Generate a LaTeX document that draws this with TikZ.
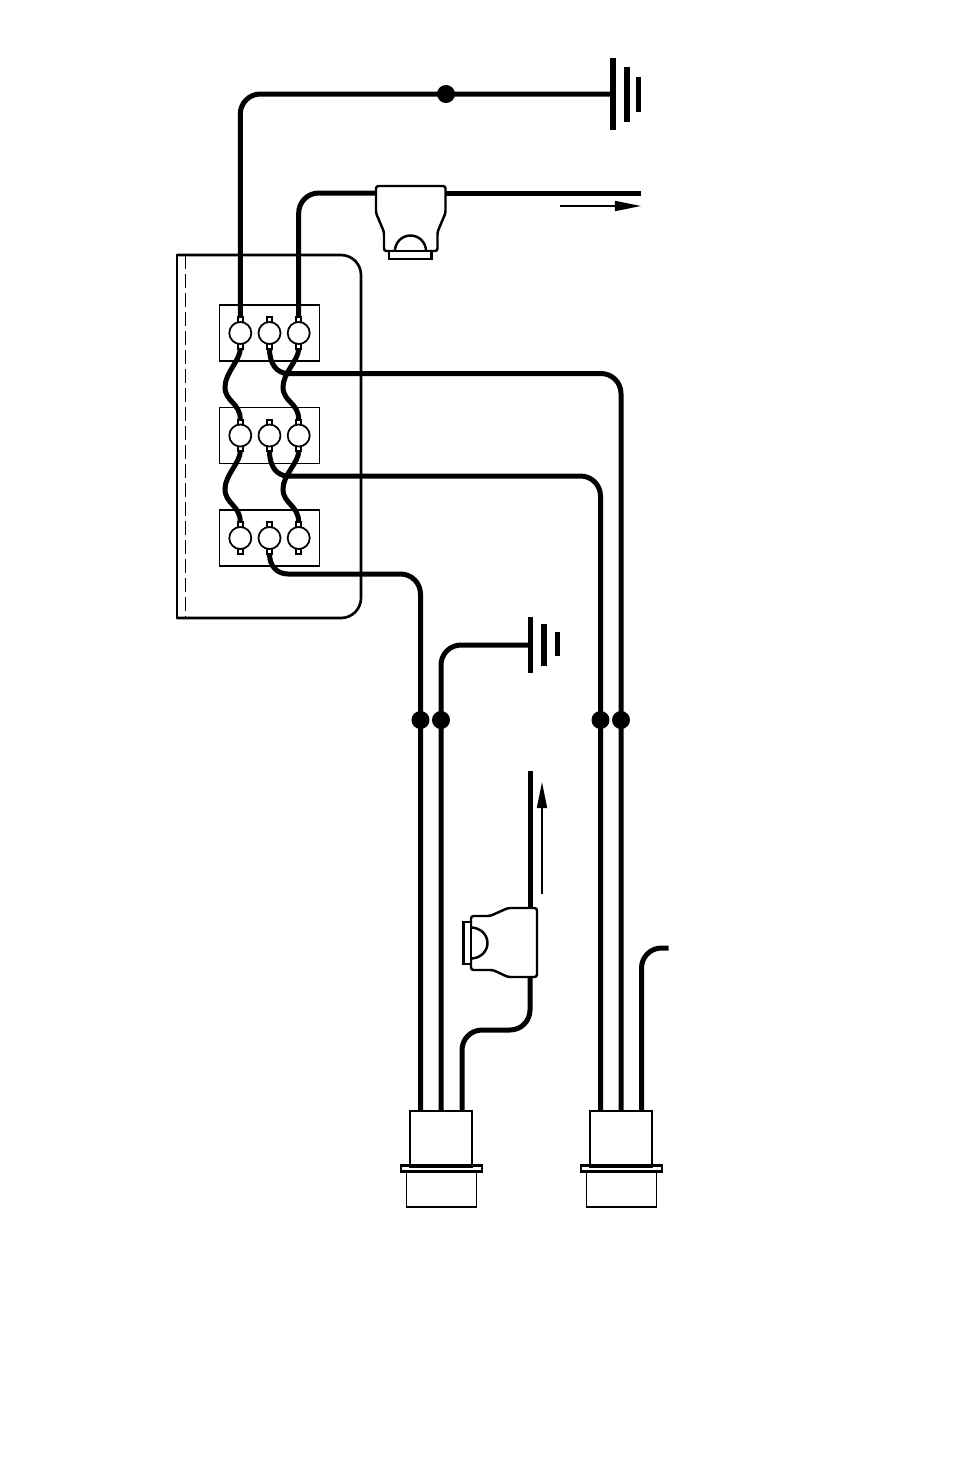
\documentclass[tikz,border=0pt]{standalone}
\usetikzlibrary{arrows.meta}
\tikzset{
  wire/.style={line width=1.42pt},
  thinbox/.style={draw, line width=0.5pt, inner sep=0pt, outer sep=0pt},
  term/.style={circle, draw, fill=white, line width=0.5pt, minimum size=0.22cm, inner sep=0pt, outer sep=0pt},
  tab/.style={draw, fill=white, line width=0.55pt, minimum size=0.055cm, inner sep=0pt, outer sep=0pt},
  dot/.style={circle, fill=black, minimum size=0.18cm, inner sep=0pt, outer sep=0pt},
  bar/.style={line width=1.55pt},
  flow/.style={line width=0.45pt, -{Triangle[length=0.26cm,width=0.1cm]}},
  lamp/.style={draw, fill=white, line width=0.7pt}
}
\begin{document}
\begin{tikzpicture}[x=0.01cm, y=-0.01cm]
	\useasboundingbox (0,0) rectangle (954,1475);
	% housing
	\draw[line width=0.75pt, rounded corners=0.2cm] (177,255) -- (361,255) -- (361,618) -- (177,618);
	\draw[line width=0.75pt, line cap=rect] (177,255) -- (177,618);
	\draw[line width=0.4pt, dash pattern=on 0.14cm off 0.05cm] (185.5,255) -- (185.5,618);
	% terminal strips
	\node[thinbox, minimum width=1cm, minimum height=0.56cm] (stripA) at (269.5,333) {};
	\node[thinbox, minimum width=1cm, minimum height=0.56cm] (stripB) at (269.5,435.5) {};
	\node[thinbox, minimum width=1cm, minimum height=0.56cm] (stripC) at (269.5,538) {};
	% terminals, rows 1..3
	\foreach \row/\y in {1/333,2/435.5,3/538} {
		\foreach \col/\x in {a/240.3,b/269.5,c/298.7} {
			\node[tab] (\col\row top) at (\x,\y-13) {};
			\node[tab] (\col\row bot) at (\x,\y+13) {};
			\node[term] (\col\row) at (\x,\y) {};
		}
	}
	% plugs
	\node[thinbox, line width=0.7pt, minimum width=0.62cm, minimum height=0.555cm] (plugA) at (441,1138.5) {};
	\node[thinbox, line width=0.8pt, minimum width=0.81cm, minimum height=0.055cm] (flangeA) at (441.5,1168.5) {};
	\node[thinbox, minimum width=0.7cm, minimum height=0.36cm] (capA) at (441.5,1189) {};
	\node[thinbox, line width=0.7pt, minimum width=0.62cm, minimum height=0.555cm] (plugB) at (621,1138.5) {};
	\node[thinbox, line width=0.8pt, minimum width=0.81cm, minimum height=0.055cm] (flangeB) at (621.5,1168.5) {};
	\node[thinbox, minimum width=0.7cm, minimum height=0.36cm] (capB) at (621.5,1189) {};
	\coordinate (pA1) at (420.5,1110);
	\coordinate (pA2) at (441,1110);
	\coordinate (pA3) at (462,1110);
	\coordinate (pB1) at (600.5,1110);
	\coordinate (pB2) at (621,1110);
	\coordinate (pB3) at (641.5,1110);
	% grounds
	\coordinate (gndT) at (613,94);
	\draw[bar] (613,58) -- (613,130);
	\draw[bar] (627,67) -- (627,122);
	\draw[bar] (638.5,77) -- (638.5,112);
	\coordinate (gndL) at (530,645);
	\draw[bar] (530.3,617) -- (530.3,673);
	\draw[bar] (544,624) -- (544,666);
	\draw[bar] (557.7,632) -- (557.7,656);
	% top lamp and its wires
	\coordinate (lampTin) at (376,193);
	\coordinate (lampTout) at (445,193);
	\coordinate (lineT) at (641,193);
	\draw[wire, rounded corners=0.2cm] (a1top) |- (gndT);
	\draw[wire, rounded corners=0.2cm] (c1top) |- (lampTin);
	\draw[wire] (lampTout) -- (lineT);
	\draw[lamp, rounded corners=0.025cm] (376,186) -- (445.5,186) -- (445.5,213) -- (437.5,232) -- (437.5,243) -- (437.5,251) -- (384,251) -- (384,232) -- (376,213) -- cycle;
	\draw[lamp] (395,251) arc[start angle=180, end angle=0, x radius=15.5, y radius=-15.5];
	\draw[lamp] (389,251) rectangle (431.5,259);
	\node[dot] (dotT) at (446,94) {};
	% links between strips
	\coordinate (a1w) at (225,387);
	\coordinate (c1w) at (283,387);
	\coordinate (a2w) at (225,489);
	\coordinate (c2w) at (283,489);
	\draw[wire] (a1bot) .. controls +(0,14) and +(0,-14) .. (a1w) .. controls +(0,15) and +(0,-20) .. (a2top);
	\draw[wire] (c1bot) .. controls +(0,14) and +(0,-14) .. (c1w) .. controls +(0,15) and +(0,-20) .. (c2top);
	\draw[wire] (a2bot) .. controls +(0,14) and +(0,-14) .. (a2w) .. controls +(0,15) and +(0,-20) .. (a3top);
	\draw[wire] (c2bot) .. controls +(0,14) and +(0,-14) .. (c2w) .. controls +(0,15) and +(0,-20) .. (c3top);
	% branches to the plugs
	\coordinate (b1turn) at (288,373.5);
	\coordinate (b2turn) at (288,476);
	\coordinate (b3turn) at (288,574);
	\draw[wire] (b1bot) .. controls +(0,18) and +(-11,0) .. (b1turn) [rounded corners=0.2cm] -| (pB2);
	\draw[wire] (b2bot) .. controls +(0,18) and +(-11,0) .. (b2turn) [rounded corners=0.2cm] -| (pB1);
	\draw[wire] (b3bot) .. controls +(0,15) and +(-11,0) .. (b3turn) [rounded corners=0.2cm] -| (pA1);
	\draw[wire, rounded corners=0.2cm] (pA2) |- (gndL);
	\node[dot] (dotA1) at (420.5,720) {};
	\node[dot] (dotA2) at (441,720) {};
	\node[dot] (dotB1) at (600.5,720) {};
	\node[dot] (dotB2) at (621,720) {};
	% side lamp and its wires
	\coordinate (lampSin) at (530,978);
	\coordinate (lampSout) at (530,909);
	\coordinate (lineS) at (530,771);
	\draw[wire, rounded corners=0.2cm] (pA3) -- (462,1030) -- (530,1030) -- (lampSin);
	\draw[wire] (lampSout) -- (lineS);
	\draw[lamp, rounded corners=0.025cm] (537,908) -- (537,977) -- (508,977) -- (493,970) -- (471,970) -- (471,916) -- (490,916) -- (508,908) -- cycle;
	\draw[lamp] (471,927.5) arc[start angle=90, end angle=-90, x radius=16.5, y radius=-15.5];
	\draw[lamp] (463.5,922) rectangle (471,964);
	% free end at plug B
	\coordinate (freeB) at (668.5,948);
	\draw[wire, rounded corners=0.2cm] (pB3) |- (freeB);
	% flow arrows
	\coordinate (flowTa) at (560,206);
	\coordinate (flowTb) at (641,206);
	\coordinate (flowSa) at (542,894);
	\coordinate (flowSb) at (542,782);
	\draw[flow] (flowTa) -- (flowTb);
	\draw[flow] (flowSa) -- (flowSb);
\end{tikzpicture}
\end{document}
